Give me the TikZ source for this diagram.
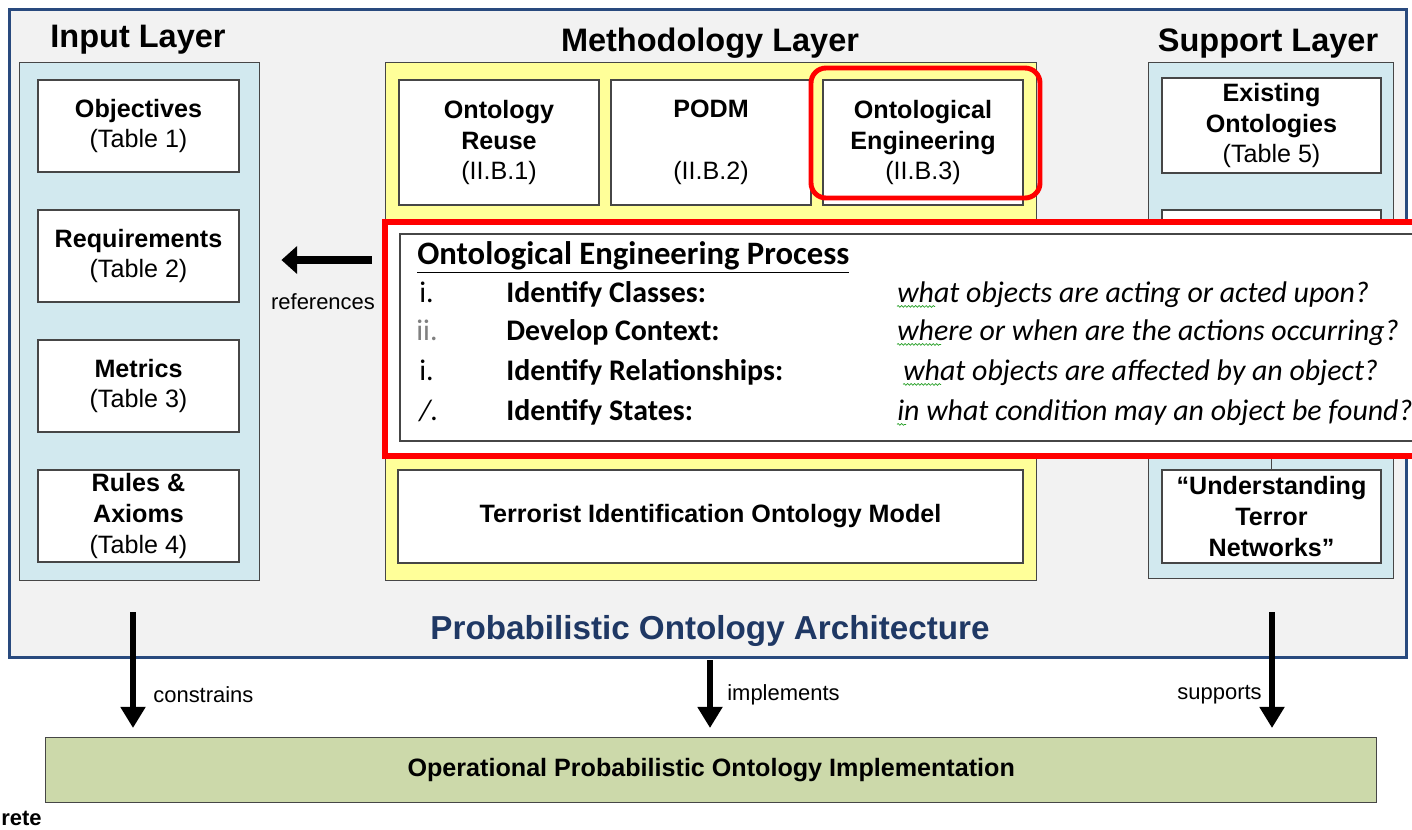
\documentclass[tikz,border=0pt]{standalone}
\usepackage{fontspec}
\setmainfont{Liberation Sans}
\newfontfamily\calibri{Carlito}
\usetikzlibrary{arrows.meta,decorations.pathmorphing}

\definecolor{framebg}{RGB}{242,242,242}
\definecolor{frameblue}{RGB}{41,74,126}
\definecolor{inputbg}{RGB}{210,233,239}
\definecolor{methodbg}{RGB}{255,255,153}
\definecolor{opbg}{RGB}{204,217,170}
\definecolor{archblue}{RGB}{31,56,100}
\definecolor{boxline}{RGB}{70,70,70}
\definecolor{spellgreen}{RGB}{40,160,40}

\newcommand{\pu}{0.02cm}
\newcommand{\titlefont}{\fontsize{18.5}{22}\selectfont\bfseries}
\newcommand{\boxfont}{\fontsize{14.3}{17.6}\selectfont}
\newcommand{\labelfont}{\fontsize{12.5}{15}\selectfont}
\newcommand{\archfont}{\fontsize{18.9}{22}\selectfont\bfseries}
\newcommand{\procfont}{\calibri\fontsize{17}{20}\selectfont}

\tikzset{
	layer/.style={draw=boxline, line width=0.8pt, anchor=north west, inner sep=0pt},
	cell/.style={draw=boxline, fill=white, line width=0.8pt, align=center, font=\boxfont, inner sep=0pt},
	title/.style={font=\titlefont},
	proc/.style={font=\procfont, anchor=base west, inner sep=0pt},
	squiggle/.style={spellgreen, line width=0.4pt, decorate, decoration={snake, amplitude=0.5pt, segment length=2pt}},
	ref arrow/.style={line width=5pt, -{Triangle[length=9pt, width=15.5pt]}},
	flow arrow/.style={line width=3.4pt, -{Triangle[length=12pt, width=13.6pt]}}
}

\begin{document}
\begin{tikzpicture}[x=0.02cm, y=-0.02cm]
	\useasboundingbox (0,0) rectangle (1412,829);
	\node[layer, draw=frameblue, line width=1.7pt, fill=framebg, minimum width=1397*\pu, minimum height=648*\pu] at (8,8) (architecture) {};
	\node[font=\archfont, text=archblue] at (710,631) (architecture-title) {Probabilistic Ontology Architecture};

	\node[title] at (138,40) (input-title) {Input Layer};
	\node[layer, fill=inputbg, minimum width=240*\pu, minimum height=518*\pu] at (19,62) (input-layer) {};
	\node[cell, minimum width=201*\pu, minimum height=92*\pu] at (138.5,126) (objectives) {\textbf{Objectives}\\(Table 1)};
	\node[cell, minimum width=201*\pu, minimum height=92*\pu] at (138.5,256) (requirements) {\textbf{Requirements}\\(Table 2)};
	\node[cell, minimum width=201*\pu, minimum height=92*\pu] at (138.5,386) (metrics) {\textbf{Metrics}\\(Table 3)};
	\node[cell, minimum width=201*\pu, minimum height=92*\pu] at (138.5,516) (rules) {\textbf{Rules \&}\\\textbf{Axioms}\\(Table 4)};

	\node[title] at (710,43) (method-title) {Methodology Layer};
	\node[layer, fill=methodbg, minimum width=651*\pu, minimum height=518*\pu] at (385,62) (method-layer) {};
	\node[cell, minimum width=200*\pu, minimum height=125*\pu] at (499,142.5) (onto-reuse) {\textbf{Ontology}\\\textbf{Reuse}\\(II.B.1)};
	\node[cell, minimum width=200*\pu, minimum height=125*\pu] at (711,142.5) (podm) {\textbf{PODM}\\\mbox{}\\(II.B.2)};
	\node[cell, minimum width=200*\pu, minimum height=125*\pu] at (923,142.5) (onto-eng) {\textbf{Ontological}\\\textbf{Engineering}\\(II.B.3)};
	\node[cell, minimum width=625*\pu, minimum height=93*\pu] at (710.5,516.5) (tiom) {\textbf{Terrorist Identification Ontology Model}};
	\node[draw=red, line width=2.8pt, rounded corners=0.3cm, minimum width=229*\pu, minimum height=130*\pu] at (925.5,133) (onto-eng-mark) {};

	\node[title] at (1268,44) (support-title) {Support Layer};
	\node[layer, fill=inputbg, minimum width=245*\pu, minimum height=516*\pu] at (1148,62) (support-layer) {};
	\node[cell, minimum width=219*\pu, minimum height=95*\pu] at (1271.5,125.5) (existing) {\textbf{Existing}\\\textbf{Ontologies}\\(Table 5)};
	\node[cell, minimum width=219*\pu, minimum height=220*\pu] at (1271.5,320) (support-hidden) {};
	\node[cell, minimum width=219*\pu, minimum height=93*\pu] at (1271.5,516.5) (understanding) {\textbf{“Understanding}\\\textbf{Terror}\\\textbf{Networks”}};
	\draw[boxline, line width=0.8pt] (support-hidden.south) -- (understanding.north);

	\node[draw=red, line width=3.4pt, fill=white, anchor=north west, minimum width=1040*\pu, minimum height=234*\pu] at (382,219) (oe-frame) {};
	\node[draw=boxline, line width=1pt, anchor=north west, minimum width=1030*\pu, minimum height=207*\pu] at (399,233) (oe-process) {};
	\node[proc, font=\calibri\fontsize{18.6}{22}\selectfont\bfseries] at (417,264) (oe-title) {\underline{Ontological Engineering Process}};

	\node[proc] at (419,302) (num-1) {i.};
	\node[proc, font=\procfont\bfseries] at (506,302) (step-classes) {Identify Classes:};
	\node[proc, font=\procfont\itshape] at (897,302) (ask-classes) {what objects are acting or acted upon?};
	\draw[squiggle] ([yshift=-2.5pt]ask-classes.base west) -- +(38,0);

	\node[proc, text=gray] at (416,340) (num-2) {ii.};
	\node[proc, font=\procfont\bfseries] at (506,340) (step-context) {Develop Context:};
	\node[proc, font=\procfont\itshape] at (897,340) (ask-context) {where or when are the actions occurring?};
	\draw[squiggle] ([yshift=-2.5pt]ask-context.base west) -- +(44,0);

	\node[proc] at (419,380) (num-3) {i.};
	\node[proc, font=\procfont\bfseries] at (506,380) (step-relations) {Identify Relationships:};
	\node[proc, font=\procfont\itshape] at (903,380) (ask-relations) {what objects are affected by an object?};
	\draw[squiggle] ([yshift=-2.5pt]ask-relations.base west) -- +(38,0);

	\node[proc, font=\procfont\itshape] at (419,420) (num-4) {/.};
	\node[proc, font=\procfont\bfseries] at (506,420) (step-states) {Identify States:};
	\node[proc, font=\procfont\itshape] at (897,420) (ask-states) {in what condition may an object be found?};
	\draw[squiggle] ([yshift=-2.5pt]ask-states.base west) -- +(9,0);

	\coordinate (ref-tail) at (372,260);
	\draw[ref arrow, shorten >=21*\pu] (ref-tail) -- (ref-tail -| input-layer.east);
	\node[font=\labelfont] at (323,302) (ref-text) {references};

	\node[draw=boxline, line width=0.8pt, fill=opbg, anchor=north west, minimum width=1331*\pu, minimum height=65*\pu] at (45,737) (op-impl) {};
	\node[font=\boxfont\bfseries] at (op-impl.center) (op-impl-text) {Operational Probabilistic Ontology Implementation};

	\coordinate (constrains-top) at (133,612);
	\draw[flow arrow, shorten >=9*\pu] (constrains-top) -- (constrains-top |- op-impl.north);
	\node[font=\labelfont, anchor=west, inner sep=0pt] at (153,695) (constrains-text) {constrains};
	\coordinate (implements-top) at (710,660);
	\draw[flow arrow, shorten >=9*\pu] (implements-top) -- (implements-top |- op-impl.north);
	\node[font=\labelfont, anchor=west, inner sep=0pt] at (727,695) (implements-text) {implements};
	\coordinate (supports-top) at (1272,612);
	\draw[flow arrow, shorten >=9*\pu] (supports-top) -- (supports-top |- op-impl.north);
	\node[font=\labelfont, anchor=east, inner sep=0pt] at (1262,695) (supports-text) {supports};

	\node[font=\labelfont\bfseries, anchor=base west, inner sep=0pt] at (1,825) (concrete-tag) {rete};
\end{tikzpicture}
\end{document}
